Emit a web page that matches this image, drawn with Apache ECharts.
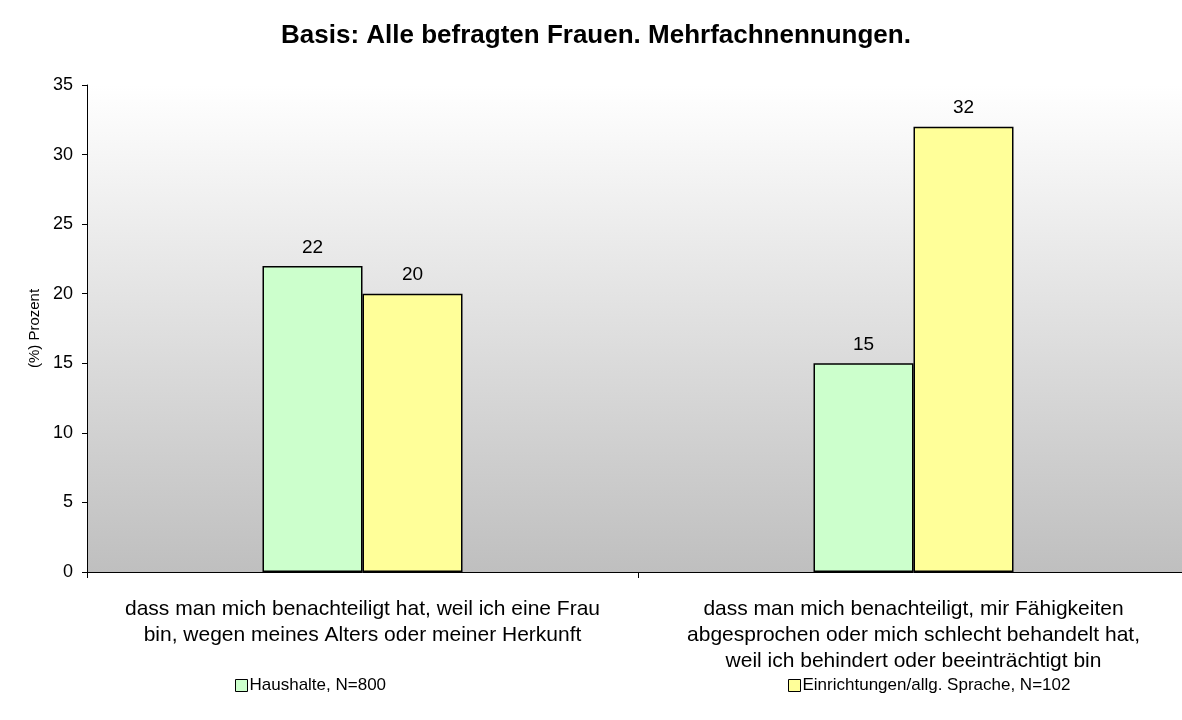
<!DOCTYPE html>
<html>
<head>
<meta charset="utf-8">
<script src="https://cdn.jsdelivr.net/npm/echarts@6/dist/echarts.min.js"></script>
<style>
  html, body { margin: 0; padding: 0; background: #fff; overflow: hidden; }
  /* plot area runs past the right edge in the reference, so the chart is a bit wider than the window */
  #chart { width: 1196px; height: 720px; }
</style>
</head>
<body>
<div id="chart"></div>
<script>
const categories = [
  "dass man mich benachteiligt hat, weil ich eine Frau\nbin, wegen meines Alters oder meiner Herkunft",
  "dass man mich benachteiligt, mir Fähigkeiten\nabgesprochen oder mich schlecht behandelt hat,\nweil ich behindert oder beeinträchtigt bin"
];
const seriesNames = ["Haushalte, N=800", "Einrichtungen/allg. Sprache, N=102"];
const haushalte = [22, 15];
const einrichtungen = [20, 32];
const colors = ["#ccffcc", "#ffff99"];

const font = "Liberation Sans, Arial, sans-serif";
const chart = echarts.init(document.getElementById("chart"));

const legendBase = {
  orient: "horizontal",
  top: 672,
  icon: "rect",
  itemWidth: 12,
  itemHeight: 12,
  itemGap: 4,
  textStyle: { fontFamily: font, fontSize: 17, color: "#000", padding: [0, 0, 0, -3] },
  itemStyle: { borderColor: "#000", borderWidth: 1 }
};

chart.setOption({
  animation: false,
  title: {
    text: "Basis: Alle befragten Frauen. Mehrfachnennungen.",
    left: 591,
    textAlign: "center",
    top: 18,
    textStyle: { fontFamily: font, fontSize: 26, fontWeight: "bold", color: "#000" }
  },
  legend: [
    Object.assign({}, legendBase, { left: 230, data: [seriesNames[0]] }),
    Object.assign({}, legendBase, { left: 783, data: [seriesNames[1]] })
  ],
  grid: {
    left: 87,
    right: 7,
    top: 85,
    bottom: 148,
    show: true,
    borderWidth: 0,
    backgroundColor: new echarts.graphic.LinearGradient(0, 0, 0, 1, [
      { offset: 0, color: "#ffffff" },
      { offset: 1, color: "#bfbfbf" }
    ])
  },
  xAxis: {
    type: "category",
    data: categories,
    axisLine: { lineStyle: { color: "#000", width: 1 } },
    axisTick: { show: true, length: 6, lineStyle: { color: "#000" } },
    axisLabel: {
      fontFamily: font,
      fontSize: 21,
      color: "#000",
      lineHeight: 26,
      margin: 24,
      align: "center",
      interval: 0
    }
  },
  yAxis: {
    type: "value",
    min: 0,
    max: 35,
    interval: 5,
    name: "(%) Prozent",
    nameLocation: "middle",
    nameGap: 45,
    nameTextStyle: { fontFamily: font, fontSize: 15, color: "#000" },
    axisLine: { show: true, lineStyle: { color: "#000", width: 1 } },
    axisTick: { show: true, length: 5, lineStyle: { color: "#000" } },
    splitLine: { show: false },
    axisLabel: { fontFamily: font, fontSize: 18, color: "#000", margin: 14 }
  },
  series: [
    {
      name: seriesNames[0],
      type: "bar",
      data: haushalte,
      barWidth: 100,
      barGap: "0%",
      itemStyle: { color: colors[0], borderColor: "#000", borderWidth: 1.5 },
      label: { show: true, position: "top", distance: 9, fontFamily: font, fontSize: 19, color: "#000" }
    },
    {
      name: seriesNames[1],
      type: "bar",
      data: einrichtungen,
      barWidth: 100,
      barGap: "0%",
      itemStyle: { color: colors[1], borderColor: "#000", borderWidth: 1.5 },
      label: { show: true, position: "top", distance: 9, fontFamily: font, fontSize: 19, color: "#000" }
    }
  ]
});
</script>
</body>
</html>
